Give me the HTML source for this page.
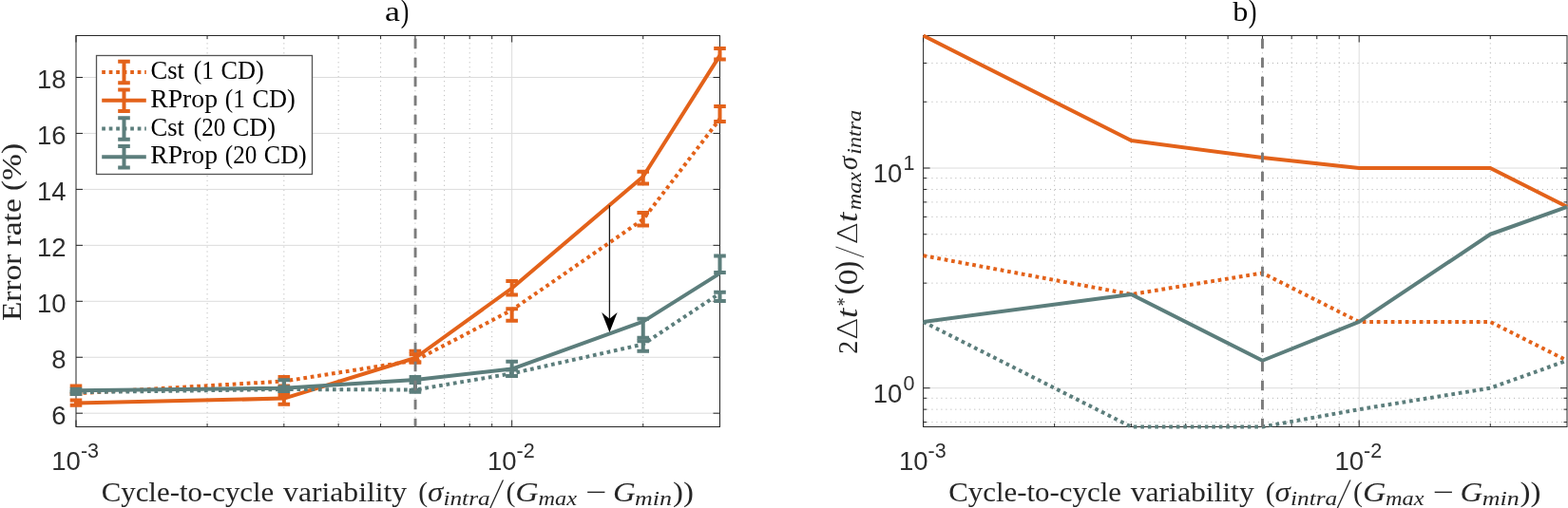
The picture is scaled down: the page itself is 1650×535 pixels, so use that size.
<!DOCTYPE html><html><head><meta charset="utf-8"><style>html,body{margin:0;padding:0;background:#fff;}svg{display:block}.tk{font-family:"Liberation Sans",Arial,sans-serif;fill:#2e2e2e}.sf{font-family:"Liberation Serif","Times New Roman",serif}</style></head><body>
<svg width="1650" height="535" viewBox="0 0 1650 535">
<rect width="1650" height="535" fill="#fff"/>
<defs><clipPath id="cL"><rect x="80.0" y="35.5" width="677.5" height="416.0"/></clipPath><clipPath id="cR"><rect x="971.6" y="37.5" width="677.4" height="412.0"/></clipPath></defs>
<line x1="218.07" y1="449.5" x2="218.07" y2="37.5" stroke="#b0b0b0" stroke-width="1" stroke-dasharray="1 3.98" stroke-dashoffset="0.27"/>
<line x1="298.84" y1="449.5" x2="298.84" y2="37.5" stroke="#b0b0b0" stroke-width="1" stroke-dasharray="1 3.98" stroke-dashoffset="0.27"/>
<line x1="356.14" y1="449.5" x2="356.14" y2="37.5" stroke="#b0b0b0" stroke-width="1" stroke-dasharray="1 3.98" stroke-dashoffset="0.27"/>
<line x1="400.59" y1="449.5" x2="400.59" y2="37.5" stroke="#b0b0b0" stroke-width="1" stroke-dasharray="1 3.98" stroke-dashoffset="0.27"/>
<line x1="436.91" y1="449.5" x2="436.91" y2="37.5" stroke="#b0b0b0" stroke-width="1" stroke-dasharray="1 3.98" stroke-dashoffset="0.27"/>
<line x1="467.61" y1="449.5" x2="467.61" y2="37.5" stroke="#b0b0b0" stroke-width="1" stroke-dasharray="1 3.98" stroke-dashoffset="0.27"/>
<line x1="494.21" y1="449.5" x2="494.21" y2="37.5" stroke="#b0b0b0" stroke-width="1" stroke-dasharray="1 3.98" stroke-dashoffset="0.27"/>
<line x1="517.68" y1="449.5" x2="517.68" y2="37.5" stroke="#b0b0b0" stroke-width="1" stroke-dasharray="1 3.98" stroke-dashoffset="0.27"/>
<line x1="676.73" y1="449.5" x2="676.73" y2="37.5" stroke="#b0b0b0" stroke-width="1" stroke-dasharray="1 3.98" stroke-dashoffset="0.27"/>
<line x1="538.66" y1="37.5" x2="538.66" y2="449.5" stroke="#dcdcdc" stroke-width="1"/>
<line x1="80.0" y1="435.2" x2="757.5" y2="435.2" stroke="#dcdcdc" stroke-width="1"/>
<line x1="80.0" y1="376.25" x2="757.5" y2="376.25" stroke="#dcdcdc" stroke-width="1"/>
<line x1="80.0" y1="317.3" x2="757.5" y2="317.3" stroke="#dcdcdc" stroke-width="1"/>
<line x1="80.0" y1="258.35" x2="757.5" y2="258.35" stroke="#dcdcdc" stroke-width="1"/>
<line x1="80.0" y1="199.4" x2="757.5" y2="199.4" stroke="#dcdcdc" stroke-width="1"/>
<line x1="80.0" y1="140.45" x2="757.5" y2="140.45" stroke="#dcdcdc" stroke-width="1"/>
<line x1="80.0" y1="81.5" x2="757.5" y2="81.5" stroke="#dcdcdc" stroke-width="1"/>
<path d="M80 449.5v-7M80 37.5v7M538.66 449.5v-7M538.66 37.5v7M218.07 449.5v-3.5M218.07 37.5v3.5M298.84 449.5v-3.5M298.84 37.5v3.5M356.14 449.5v-3.5M356.14 37.5v3.5M400.59 449.5v-3.5M400.59 37.5v3.5M436.91 449.5v-3.5M436.91 37.5v3.5M467.61 449.5v-3.5M467.61 37.5v3.5M494.21 449.5v-3.5M494.21 37.5v3.5M517.68 449.5v-3.5M517.68 37.5v3.5M676.73 449.5v-3.5M676.73 37.5v3.5M80.0 435.2h7M757.5 435.2h-7M80.0 376.25h7M757.5 376.25h-7M80.0 317.3h7M757.5 317.3h-7M80.0 258.35h7M757.5 258.35h-7M80.0 199.4h7M757.5 199.4h-7M80.0 140.45h7M757.5 140.45h-7M80.0 81.5h7M757.5 81.5h-7" stroke="#262626" stroke-width="1" fill="none"/>
<rect x="80.0" y="37.5" width="677.5" height="412" fill="none" stroke="#262626" stroke-width="1"/>
<g>
<polyline points="80,414.3 298.84,401.5 436.91,379.7 538.66,326.5 676.73,231.1 757.5,125.3" fill="none" stroke="#E3621A" stroke-width="4.0" stroke-linejoin="round" stroke-dasharray="3.7 3.8"/>
<path d="M80 406.5V415M73.7 406.5H86.3M73.7 415H86.3M298.84 397.1V406.5M292.54 397.1H305.14M292.54 406.5H305.14M436.91 373.2V381.4M430.61 373.2H443.21M430.61 381.4H443.21M538.66 325.2V337.8M532.36 325.2H544.96M532.36 337.8H544.96M676.73 224V237.6M670.43 224H683.03M670.43 237.6H683.03M757.5 112V128M751.2 112H763.8M751.2 128H763.8" fill="none" stroke="#E3621A" stroke-width="4.0"/>
<polyline points="80,424.6 298.84,419.6 436.91,377 538.66,303.5 676.73,186 757.5,58.4" fill="none" stroke="#E3621A" stroke-width="4.0" stroke-linejoin="round"/>
<path d="M80 421.6V426.8M73.7 421.6H86.3M73.7 426.8H86.3M298.84 416V425.7M292.54 416H305.14M292.54 425.7H305.14M436.91 369.7V381.4M430.61 369.7H443.21M430.61 381.4H443.21M538.66 295.9V310.5M532.36 295.9H544.96M532.36 310.5H544.96M676.73 180.8V193.4M670.43 180.8H683.03M670.43 193.4H683.03M757.5 51.1V62.5M751.2 51.1H763.8M751.2 62.5H763.8" fill="none" stroke="#E3621A" stroke-width="4.0"/>
<polyline points="80,413.2 298.84,410 436.91,410.5 538.66,393.3 676.73,362.6 757.5,309" fill="none" stroke="#5C7E7C" stroke-width="4.0" stroke-linejoin="round" stroke-dasharray="3.7 3.8"/>
<path d="M80 409.8V412.6M73.7 409.8H86.3M73.7 412.6H86.3M298.84 407.5V412M292.54 407.5H305.14M292.54 412H305.14M436.91 402.9V411.1M430.61 402.9H443.21M430.61 411.1H443.21M538.66 389.5V395.9M532.36 389.5H544.96M532.36 395.9H544.96M676.73 359.3V369.7M670.43 359.3H683.03M670.43 369.7H683.03M757.5 307.8V317M751.2 307.8H763.8M751.2 317H763.8" fill="none" stroke="#5C7E7C" stroke-width="4.0"/>
<polyline points="80,411.3 298.84,408.8 436.91,400.1 538.66,388.6 676.73,338.6 757.5,287.9" fill="none" stroke="#5C7E7C" stroke-width="4.0" stroke-linejoin="round"/>
<path d="M80 412.4V415.1M73.7 412.4H86.3M73.7 415.1H86.3M298.84 400.3V412M292.54 400.3H305.14M292.54 412H305.14M436.91 397V412.7M430.61 397H443.21M430.61 412.7H443.21M538.66 380.8V395.9M532.36 380.8H544.96M532.36 395.9H544.96M676.73 335.8V355.8M670.43 335.8H683.03M670.43 355.8H683.03M757.5 269.4V287M751.2 269.4H763.8M751.2 287H763.8" fill="none" stroke="#5C7E7C" stroke-width="4.0"/>
</g>
<line x1="437.06" y1="40.8" x2="437.06" y2="449.5" stroke="#7c7c7c" stroke-width="2.9" stroke-dasharray="10.4 9.6"/>
<line x1="641.4" y1="216.2" x2="641.4" y2="336" stroke="#1a1a1a" stroke-width="1.3"/>
<path d="M641.4 350L633.2 329L641.4 335.7L649.6 329Z" fill="#000"/>
<rect x="101.5" y="58.5" width="227" height="125" fill="#fff" stroke="#555" stroke-width="1.3"/>
<line x1="107.2" y1="76.0" x2="153.8" y2="76.0" stroke="#E3621A" stroke-width="4.0" stroke-dasharray="3.7 3.8"/>
<path d="M130.5 64.7V87.3M124.2 64.7H136.8M124.2 87.3H136.8" stroke="#E3621A" stroke-width="4.0" fill="none"/>
<line x1="107.2" y1="105.8" x2="153.8" y2="105.8" stroke="#E3621A" stroke-width="4.0"/>
<path d="M130.5 94.5V117.1M124.2 94.5H136.8M124.2 117.1H136.8" stroke="#E3621A" stroke-width="4.0" fill="none"/>
<line x1="107.2" y1="135.5" x2="153.8" y2="135.5" stroke="#5C7E7C" stroke-width="4.0" stroke-dasharray="3.7 3.8"/>
<path d="M130.5 124.2V146.8M124.2 124.2H136.8M124.2 146.8H136.8" stroke="#5C7E7C" stroke-width="4.0" fill="none"/>
<line x1="107.2" y1="165.3" x2="153.8" y2="165.3" stroke="#5C7E7C" stroke-width="4.0"/>
<path d="M130.5 154V176.6M124.2 154H136.8M124.2 176.6H136.8" stroke="#5C7E7C" stroke-width="4.0" fill="none"/>
<text class="tk" x="69.5" y="446.7" font-size="27.5" text-anchor="end">6</text>
<text class="tk" x="69.5" y="387.75" font-size="27.5" text-anchor="end">8</text>
<text class="tk" x="69.5" y="328.8" font-size="27.5" text-anchor="end">10</text>
<text class="tk" x="69.5" y="269.85" font-size="27.5" text-anchor="end">12</text>
<text class="tk" x="69.5" y="210.9" font-size="27.5" text-anchor="end">14</text>
<text class="tk" x="69.5" y="151.95" font-size="27.5" text-anchor="end">16</text>
<text class="tk" x="69.5" y="93" font-size="27.5" text-anchor="end">18</text>
<text class="tk" x="79.2" y="495.3" font-size="27.5" text-anchor="middle">10<tspan dy="-13.3" font-size="21.5">-3</tspan></text>
<text class="tk" x="537.86" y="495.3" font-size="27.5" text-anchor="middle">10<tspan dy="-13.3" font-size="21.5">-2</tspan></text>
<line x1="1109.65" y1="449.5" x2="1109.65" y2="37.5" stroke="#b0b0b0" stroke-width="1" stroke-dasharray="1 3.98" stroke-dashoffset="0.27"/>
<line x1="1190.41" y1="449.5" x2="1190.41" y2="37.5" stroke="#b0b0b0" stroke-width="1" stroke-dasharray="1 3.98" stroke-dashoffset="0.27"/>
<line x1="1247.7" y1="449.5" x2="1247.7" y2="37.5" stroke="#b0b0b0" stroke-width="1" stroke-dasharray="1 3.98" stroke-dashoffset="0.27"/>
<line x1="1292.14" y1="449.5" x2="1292.14" y2="37.5" stroke="#b0b0b0" stroke-width="1" stroke-dasharray="1 3.98" stroke-dashoffset="0.27"/>
<line x1="1328.46" y1="449.5" x2="1328.46" y2="37.5" stroke="#b0b0b0" stroke-width="1" stroke-dasharray="1 3.98" stroke-dashoffset="0.27"/>
<line x1="1359.16" y1="449.5" x2="1359.16" y2="37.5" stroke="#b0b0b0" stroke-width="1" stroke-dasharray="1 3.98" stroke-dashoffset="0.27"/>
<line x1="1385.75" y1="449.5" x2="1385.75" y2="37.5" stroke="#b0b0b0" stroke-width="1" stroke-dasharray="1 3.98" stroke-dashoffset="0.27"/>
<line x1="1409.21" y1="449.5" x2="1409.21" y2="37.5" stroke="#b0b0b0" stroke-width="1" stroke-dasharray="1 3.98" stroke-dashoffset="0.27"/>
<line x1="1568.25" y1="449.5" x2="1568.25" y2="37.5" stroke="#b0b0b0" stroke-width="1" stroke-dasharray="1 3.98" stroke-dashoffset="0.27"/>
<line x1="971.6" y1="444.59" x2="1649.0" y2="444.59" stroke="#b0b0b0" stroke-width="1" stroke-dasharray="1 3.98" stroke-dashoffset="1.1"/>
<line x1="971.6" y1="431.15" x2="1649.0" y2="431.15" stroke="#b0b0b0" stroke-width="1" stroke-dasharray="1 3.98" stroke-dashoffset="1.1"/>
<line x1="971.6" y1="419.3" x2="1649.0" y2="419.3" stroke="#b0b0b0" stroke-width="1" stroke-dasharray="1 3.98" stroke-dashoffset="1.1"/>
<line x1="971.6" y1="338.95" x2="1649.0" y2="338.95" stroke="#b0b0b0" stroke-width="1" stroke-dasharray="1 3.98" stroke-dashoffset="1.1"/>
<line x1="971.6" y1="298.15" x2="1649.0" y2="298.15" stroke="#b0b0b0" stroke-width="1" stroke-dasharray="1 3.98" stroke-dashoffset="1.1"/>
<line x1="971.6" y1="269.2" x2="1649.0" y2="269.2" stroke="#b0b0b0" stroke-width="1" stroke-dasharray="1 3.98" stroke-dashoffset="1.1"/>
<line x1="971.6" y1="246.75" x2="1649.0" y2="246.75" stroke="#b0b0b0" stroke-width="1" stroke-dasharray="1 3.98" stroke-dashoffset="1.1"/>
<line x1="971.6" y1="228.4" x2="1649.0" y2="228.4" stroke="#b0b0b0" stroke-width="1" stroke-dasharray="1 3.98" stroke-dashoffset="1.1"/>
<line x1="971.6" y1="212.89" x2="1649.0" y2="212.89" stroke="#b0b0b0" stroke-width="1" stroke-dasharray="1 3.98" stroke-dashoffset="1.1"/>
<line x1="971.6" y1="199.45" x2="1649.0" y2="199.45" stroke="#b0b0b0" stroke-width="1" stroke-dasharray="1 3.98" stroke-dashoffset="1.1"/>
<line x1="971.6" y1="187.6" x2="1649.0" y2="187.6" stroke="#b0b0b0" stroke-width="1" stroke-dasharray="1 3.98" stroke-dashoffset="1.1"/>
<line x1="971.6" y1="107.25" x2="1649.0" y2="107.25" stroke="#b0b0b0" stroke-width="1" stroke-dasharray="1 3.98" stroke-dashoffset="1.1"/>
<line x1="971.6" y1="66.45" x2="1649.0" y2="66.45" stroke="#b0b0b0" stroke-width="1" stroke-dasharray="1 3.98" stroke-dashoffset="1.1"/>
<line x1="1430.19" y1="37.5" x2="1430.19" y2="449.5" stroke="#dcdcdc" stroke-width="1"/>
<line x1="971.6" y1="408.7" x2="1649.0" y2="408.7" stroke="#dcdcdc" stroke-width="1"/>
<line x1="971.6" y1="177" x2="1649.0" y2="177" stroke="#dcdcdc" stroke-width="1"/>
<path d="M971.6 449.5v-7M971.6 37.5v7M1430.19 449.5v-7M1430.19 37.5v7M1109.65 449.5v-3.5M1109.65 37.5v3.5M1190.41 449.5v-3.5M1190.41 37.5v3.5M1247.7 449.5v-3.5M1247.7 37.5v3.5M1292.14 449.5v-3.5M1292.14 37.5v3.5M1328.46 449.5v-3.5M1328.46 37.5v3.5M1359.16 449.5v-3.5M1359.16 37.5v3.5M1385.75 449.5v-3.5M1385.75 37.5v3.5M1409.21 449.5v-3.5M1409.21 37.5v3.5M1568.25 449.5v-3.5M1568.25 37.5v3.5M971.6 408.7h7M1649.0 408.7h-7M971.6 177h7M1649.0 177h-7M971.6 444.59h3.5M1649.0 444.59h-3.5M971.6 431.15h3.5M1649.0 431.15h-3.5M971.6 419.3h3.5M1649.0 419.3h-3.5M971.6 338.95h3.5M1649.0 338.95h-3.5M971.6 298.15h3.5M1649.0 298.15h-3.5M971.6 269.2h3.5M1649.0 269.2h-3.5M971.6 246.75h3.5M1649.0 246.75h-3.5M971.6 228.4h3.5M1649.0 228.4h-3.5M971.6 212.89h3.5M1649.0 212.89h-3.5M971.6 199.45h3.5M1649.0 199.45h-3.5M971.6 187.6h3.5M1649.0 187.6h-3.5M971.6 107.25h3.5M1649.0 107.25h-3.5M971.6 66.45h3.5M1649.0 66.45h-3.5" stroke="#262626" stroke-width="1" fill="none"/>
<rect x="971.6" y="37.5" width="677.4" height="412" fill="none" stroke="#262626" stroke-width="1"/>
<g>
<polyline points="971.6,269.2 1190.41,310 1328.46,287.55 1430.19,338.95 1568.25,338.95 1649,379.75" fill="none" stroke="#E3621A" stroke-width="4.0" stroke-linejoin="round" stroke-dasharray="3.7 3.8"/>
<polyline points="971.6,37.5 1190.41,148.05 1328.46,166.04 1430.19,177 1568.25,177 1649,217.8" fill="none" stroke="#E3621A" stroke-width="4.0" stroke-linejoin="round"/>
<polyline points="971.6,338.95 1190.41,449.5 1328.46,449.5 1430.19,431.15 1568.25,408.7 1649,379.75" fill="none" stroke="#5C7E7C" stroke-width="4.0" stroke-linejoin="round" stroke-dasharray="3.7 3.8"/>
<polyline points="971.6,338.95 1190.41,310 1328.46,379.75 1430.19,338.95 1568.25,246.75 1649,217.8" fill="none" stroke="#5C7E7C" stroke-width="4.0" stroke-linejoin="round"/>
</g>
<line x1="1328.46" y1="40.8" x2="1328.46" y2="449.5" stroke="#7c7c7c" stroke-width="2.9" stroke-dasharray="10.4 9.6"/>
<text class="tk" x="918.8" y="423.5" font-size="27.5">10<tspan dx="1" dy="-12.5" font-size="21.5">0</tspan></text>
<text class="tk" x="918.8" y="191.8" font-size="27.5">10<tspan dx="1" dy="-12.5" font-size="21.5">1</tspan></text>
<text class="tk" x="970.8" y="495.3" font-size="27.5" text-anchor="middle">10<tspan dy="-13.3" font-size="21.5">-3</tspan></text>
<text class="tk" x="1429.39" y="495.3" font-size="27.5" text-anchor="middle">10<tspan dy="-13.3" font-size="21.5">-2</tspan></text>
<text class="sf" transform="matrix(1.0648 0 0 1.0000 106.66 527.80)" font-size="29.00" fill="#262626">Cycle-to-cycle</text>
<text class="sf" transform="matrix(1.0912 0 0 1.0000 298.10 527.80)" font-size="29.00" fill="#262626">variability</text>
<text class="sf" transform="matrix(1.0277 0 0 1.0000 440.26 527.80)" font-size="29.00" fill="#262626">(</text>
<text class="sf" transform="matrix(1.1355 0 0 1.0000 449.91 527.80)" font-size="29.00" font-style="italic" fill="#262626">σ</text>
<text class="sf" transform="matrix(1.2072 0 0 1.0000 466.41 532.20)" font-size="21.00" font-style="italic" fill="#262626">intra</text>
<text class="sf" transform="matrix(0.9910 0 0 1.5478 520.23 534.80)" font-size="29.00" fill="#262626">∕</text>
<text class="sf" transform="matrix(1.0277 0 0 1.0000 532.46 527.80)" font-size="29.00" fill="#262626">(</text>
<text class="sf" transform="matrix(1.1655 0 0 1.0000 542.34 527.80)" font-size="29.00" font-style="italic" fill="#262626">G</text>
<text class="sf" transform="matrix(1.1581 0 0 1.0000 566.45 532.20)" font-size="21.00" font-style="italic" fill="#262626">max</text>
<text class="sf" transform="matrix(1.3496 0 0 1.0000 616.24 527.80)" font-size="29.00" fill="#262626">−</text>
<text class="sf" transform="matrix(1.1334 0 0 1.0000 644.89 527.80)" font-size="29.00" font-style="italic" fill="#262626">G</text>
<text class="sf" transform="matrix(1.2364 0 0 1.0000 668.09 532.20)" font-size="21.00" font-style="italic" fill="#262626">min</text>
<text class="sf" transform="matrix(1.1301 0 0 1.0000 708.02 527.80)" font-size="29.00" fill="#262626">))</text>
<text class="sf" transform="matrix(1.0648 0 0 1.0000 998.26 527.80)" font-size="29.00" fill="#262626">Cycle-to-cycle</text>
<text class="sf" transform="matrix(1.0912 0 0 1.0000 1189.70 527.80)" font-size="29.00" fill="#262626">variability</text>
<text class="sf" transform="matrix(1.0277 0 0 1.0000 1331.86 527.80)" font-size="29.00" fill="#262626">(</text>
<text class="sf" transform="matrix(1.1355 0 0 1.0000 1341.51 527.80)" font-size="29.00" font-style="italic" fill="#262626">σ</text>
<text class="sf" transform="matrix(1.2072 0 0 1.0000 1358.01 532.20)" font-size="21.00" font-style="italic" fill="#262626">intra</text>
<text class="sf" transform="matrix(0.9910 0 0 1.5478 1411.83 534.80)" font-size="29.00" fill="#262626">∕</text>
<text class="sf" transform="matrix(1.0277 0 0 1.0000 1424.06 527.80)" font-size="29.00" fill="#262626">(</text>
<text class="sf" transform="matrix(1.1655 0 0 1.0000 1433.94 527.80)" font-size="29.00" font-style="italic" fill="#262626">G</text>
<text class="sf" transform="matrix(1.1581 0 0 1.0000 1458.05 532.20)" font-size="21.00" font-style="italic" fill="#262626">max</text>
<text class="sf" transform="matrix(1.3496 0 0 1.0000 1507.84 527.80)" font-size="29.00" fill="#262626">−</text>
<text class="sf" transform="matrix(1.1334 0 0 1.0000 1536.49 527.80)" font-size="29.00" font-style="italic" fill="#262626">G</text>
<text class="sf" transform="matrix(1.2364 0 0 1.0000 1559.69 532.20)" font-size="21.00" font-style="italic" fill="#262626">min</text>
<text class="sf" transform="matrix(1.1301 0 0 1.0000 1599.62 527.80)" font-size="29.00" fill="#262626">))</text>
<text class="sf" transform="matrix(1.1983 0 0 0.9514 405.04 22.21)" font-size="30.00" fill="#000">a</text>
<text class="sf" transform="matrix(0.8590 0 0 1.1062 421.63 22.56)" font-size="30.00" fill="#000">)</text>
<text class="sf" transform="matrix(1.0725 0 0 0.9835 1297.30 22.20)" font-size="30.00" fill="#000">b</text>
<text class="sf" transform="matrix(0.8718 0 0 1.1062 1313.72 22.56)" font-size="30.00" fill="#000">)</text>
<text class="sf" transform="translate(22.30,338.00) rotate(-90)" font-size="29.00" fill="#262626" textLength="187.02" lengthAdjust="spacingAndGlyphs">Error rate (%)</text>
<text class="sf" transform="translate(902.00,372.86) rotate(-90)" font-size="30.30" fill="#262626" textLength="14.00" lengthAdjust="spacingAndGlyphs">2</text>
<text class="sf" transform="translate(901.90,357.55) rotate(-90)" font-size="28.90" style="font-family:'DejaVu Sans';font-weight:200" fill="#262626" textLength="22.74" lengthAdjust="spacingAndGlyphs">Δ</text>
<text class="sf" transform="translate(901.68,335.05) rotate(-90)" font-size="32.00" font-style="italic" fill="#262626" textLength="10.22" lengthAdjust="spacingAndGlyphs">t</text>
<text class="sf" transform="translate(895.00,322.53) rotate(-90)" font-size="21.00" fill="#262626" textLength="9.25" lengthAdjust="spacingAndGlyphs">*</text>
<text class="sf" transform="translate(902.07,310.59) rotate(-90)" font-size="33.63" fill="#262626" textLength="11.75" lengthAdjust="spacingAndGlyphs">(</text>
<text class="sf" transform="translate(901.70,300.33) rotate(-90)" font-size="29.63" fill="#262626" textLength="16.67" lengthAdjust="spacingAndGlyphs">0</text>
<text class="sf" transform="translate(902.07,285.10) rotate(-90)" font-size="33.63" fill="#262626" textLength="9.99" lengthAdjust="spacingAndGlyphs">)</text>
<text class="sf" transform="translate(908.70,267.32) rotate(-90)" font-size="45.04" fill="#262626" textLength="3.79" lengthAdjust="spacingAndGlyphs">∕</text>
<text class="sf" transform="translate(901.90,257.00) rotate(-90)" font-size="28.90" style="font-family:'DejaVu Sans';font-weight:200" fill="#262626" textLength="22.74" lengthAdjust="spacingAndGlyphs">Δ</text>
<text class="sf" transform="translate(901.68,233.90) rotate(-90)" font-size="32.00" font-style="italic" fill="#262626" textLength="10.22" lengthAdjust="spacingAndGlyphs">t</text>
<text class="sf" transform="translate(906.20,221.21) rotate(-90)" font-size="21.00" font-style="italic" fill="#262626" textLength="40.23" lengthAdjust="spacingAndGlyphs">max</text>
<text class="sf" transform="translate(902.00,178.97) rotate(-90)" font-size="29.00" font-style="italic" fill="#262626" textLength="14.25" lengthAdjust="spacingAndGlyphs">σ</text>
<text class="sf" transform="translate(906.20,162.82) rotate(-90)" font-size="21.00" font-style="italic" fill="#262626" textLength="46.97" lengthAdjust="spacingAndGlyphs">intra</text>
<text class="sf" transform="matrix(0.9857 0 0 1.0000 158.44 83.00)" font-size="27.00" fill="#000">Cst</text>
<text class="sf" transform="matrix(0.9386 0 0 1.0000 203.76 83.00)" font-size="27.00" fill="#000">(1</text>
<text class="sf" transform="matrix(0.9756 0 0 1.0000 232.45 83.00)" font-size="27.00" fill="#000">CD)</text>
<text class="sf" transform="matrix(1.0269 0 0 1.0000 158.17 112.80)" font-size="27.00" fill="#000">RProp</text>
<text class="sf" transform="matrix(0.9386 0 0 1.0000 236.86 112.80)" font-size="27.00" fill="#000">(1</text>
<text class="sf" transform="matrix(0.9756 0 0 1.0000 265.55 112.80)" font-size="27.00" fill="#000">CD)</text>
<text class="sf" transform="matrix(0.9857 0 0 1.0000 158.44 142.50)" font-size="27.00" fill="#000">Cst</text>
<text class="sf" transform="matrix(0.9304 0 0 1.0000 203.77 142.50)" font-size="27.00" fill="#000">(20</text>
<text class="sf" transform="matrix(0.9734 0 0 1.0000 244.85 142.50)" font-size="27.00" fill="#000">CD)</text>
<text class="sf" transform="matrix(1.0269 0 0 1.0000 158.17 172.30)" font-size="27.00" fill="#000">RProp</text>
<text class="sf" transform="matrix(0.9304 0 0 1.0000 236.87 172.30)" font-size="27.00" fill="#000">(20</text>
<text class="sf" transform="matrix(0.9621 0 0 1.0000 277.86 172.30)" font-size="27.00" fill="#000">CD)</text>
</svg></body></html>
